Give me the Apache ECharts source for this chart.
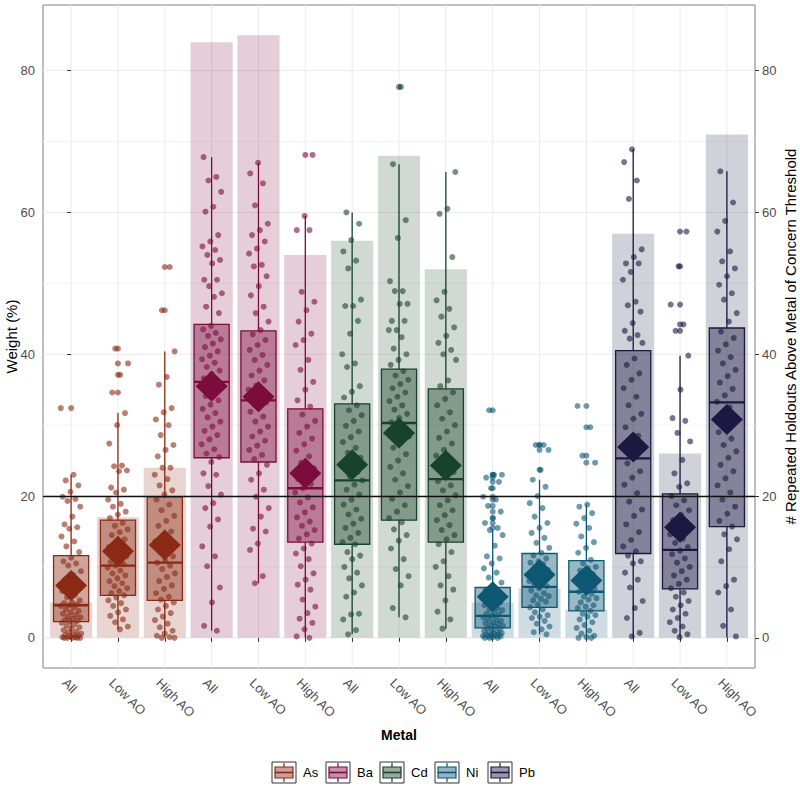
<!DOCTYPE html>
<html><head><meta charset="utf-8">
<script src="https://cdn.jsdelivr.net/npm/echarts@6/dist/echarts.min.js"></script>
<style>html,body{margin:0;padding:0;background:#fff}#c{width:800px;height:791px}</style>
</head><body><div id="c"></div>
<script>
// ---------------- data ----------------
const metals = ['As', 'Ba', 'Cd', 'Ni', 'Pb'];
const tickLabels = ['All','Low AO','High AO','All','Low AO','High AO','All','Low AO','High AO','All','Low AO','High AO','All','Low AO','High AO'];
const yBreaks = [0, 20, 40, 60, 80];
const yMinorBreaks = [10, 30, 50, 70];
const threshold = 20;

// # repeated holdouts above threshold (right axis, bars)
const holdoutCounts = [5, 17, 24, 84, 85, 54, 56, 68, 52, 5, 7, 4, 57, 26, 71];

// boxplot statistics (weight %)
const whiskerLow  = [0, 1.2, 0, 1.0, 7.7, 0, 0.5, 2.9, 1.3, 0, 0.5, 0, 0, 0, 0];
const q1          = [2.3, 6.0, 5.3, 25.4, 24.8, 13.5, 13.2, 16.6, 13.5, 1.4, 4.3, 3.8, 11.9, 6.9, 15.7];
const medians     = [4.6, 10.2, 10.6, 36.1, 33.5, 21.1, 22.2, 30.3, 22.4, 3.1, 7.2, 6.5, 25.3, 12.4, 33.2];
const q3          = [11.6, 16.6, 19.9, 44.2, 43.3, 32.3, 33.0, 37.9, 35.1, 7.1, 11.9, 10.9, 40.5, 20.3, 43.7];
const whiskerHigh = [23.0, 31.7, 40.4, 67.8, 67.0, 59.5, 60.0, 66.8, 65.7, 15.2, 22.3, 18.8, 68.9, 39.8, 65.8];
const means       = [7.4, 12.2, 13.1, 35.5, 34.0, 23.2, 24.4, 28.9, 24.3, 5.8, 8.9, 8.1, 26.9, 15.6, 30.8];

// individual observations (weight %)
const asAll = [32.4,23.0,22.2,21.5,20.6,19.9,19.6,19.3,18.5,17.1,16.0,15.6,15.4,14.3,13.6,12.9,12.1,11.3,10.8,10.5,10.2,9.4,8.9,8.2,7.6,7.0,6.6,6.1,5.7,5.3,5.0,4.9,4.7,4.6,4.5,4.3,4.0,3.8,3.6,3.4,3.2,3.0,2.9,2.7,2.5,2.4,2.3,2.1,1.9,1.7,1.5,1.3,1.1,0.9,0.8,0.6,0.5,0.4,0.3,0.2,0.1,0.1,0.0,0.0,0.0,0.0,0.0];
const asLow = [40.8,38.7,37.1,34.6,31.7,30.0,27.4,24.3,24.2,23.6,23.5,21.2,20.9,20.5,19.5,18.9,18.5,17.8,17.4,16.9,16.2,15.8,15.3,14.9,14.5,13.9,13.4,12.8,12.4,11.9,11.5,11.0,10.7,10.4,10.2,9.9,9.5,9.1,8.8,8.4,8.0,7.7,7.3,7.0,6.6,6.3,6.0,5.7,5.3,4.9,4.5,4.0,3.6,3.1,2.6,2.2,1.6,1.2];
const asHigh = [52.3,46.2,40.4,36.8,35.7,32.4,31.8,30.8,30.0,28.6,27.2,26.5,25.6,24.0,24.0,23.0,22.4,21.5,20.8,20.2,19.5,18.8,18.0,17.2,16.5,15.8,15.0,14.3,13.6,12.8,12.1,11.5,10.9,10.6,10.2,9.7,9.1,8.6,8.0,7.4,6.9,6.3,5.8,5.4,5.0,4.5,4.0,3.5,3.0,2.5,2.0,1.5,1.0,0.6,0.3,0.1,0.0,0.0];
const baAll = [67.8,65.0,64.5,62.9,60.8,60.1,56.8,55.9,55.2,54.7,54.0,53.3,52.8,50.5,50.5,49.6,48.6,48.1,46.7,45.8,44.0,43.5,43.0,42.6,42.1,41.5,41.0,40.4,39.8,39.3,38.8,38.2,37.7,37.2,36.6,36.2,35.8,35.2,34.6,34.1,33.5,32.9,32.3,31.7,31.1,30.5,29.8,29.2,28.6,28.0,27.3,26.6,26.0,25.5,24.8,23.2,23.0,21.4,20.2,19.0,18.3,16.7,15.7,12.9,11.5,10.1,7.1,5.0,1.7,1.0];
const baLow = [67.0,65.5,64.1,61.0,58.4,57.5,56.8,55.9,54.9,54.2,52.6,52.4,51.0,49.6,48.3,46.7,45.8,44.6,43.4,42.8,42.0,41.3,40.6,39.9,39.2,38.5,37.7,37.0,36.3,35.6,35.0,34.3,33.7,33.2,32.6,31.9,31.2,30.5,29.8,29.1,28.4,27.8,27.1,26.5,25.8,25.2,24.4,23.2,22.3,20.9,19.9,18.3,17.1,15.4,15.0,13.3,12.4,8.7,7.7];
const baHigh = [68.1,59.5,57.5,57.5,48.8,47.4,46.2,44.6,42.9,42.0,41.3,39.2,37.8,36.1,35.0,33.5,32.6,31.5,30.6,29.8,28.9,28.1,27.3,26.4,25.6,24.7,23.9,23.1,22.4,21.7,21.1,20.5,19.8,19.1,18.4,17.7,17.0,16.4,15.8,15.2,14.6,14.0,13.3,12.6,11.9,11.1,10.1,9.1,8.2,7.5,6.8,5.4,4.4,3.5,2.7,2.1,1.2,0.2,0.0];
const cdAll = [60.0,58.4,56.1,54.5,53.2,52.1,47.7,46.8,46.8,44.7,42.9,40.0,38.7,38.2,35.5,34.7,33.9,32.8,32.1,31.4,30.6,29.9,29.1,28.3,27.6,26.8,26.1,25.4,24.7,24.0,23.4,22.8,22.2,21.6,20.9,20.2,19.5,18.8,18.1,17.4,16.8,16.1,15.5,14.8,14.1,13.5,13.2,12.1,11.6,11.1,10.0,9.2,8.4,7.4,6.4,5.8,3.4,3.3,2.6,1.1,0.5];
const cdLow = [77.7,66.8,58.9,56.4,50.3,48.9,48.9,47.1,47.1,44.7,44.7,43.4,43.4,42.4,40.8,40.0,39.2,38.5,37.6,37.0,36.4,35.8,35.2,34.6,34.0,33.4,32.8,32.2,31.6,31.0,30.4,29.8,29.1,28.4,27.6,26.8,25.9,25.0,24.1,23.2,22.3,21.4,20.5,19.6,18.7,17.8,16.9,16.3,15.3,14.5,13.7,12.6,11.1,9.7,8.7,7.4,4.2,2.9];
const cdHigh = [65.7,60.5,59.8,53.7,48.8,47.6,46.4,45.3,43.8,42.6,41.6,40.6,40.0,39.2,36.3,35.5,34.6,33.7,32.8,31.8,30.9,30.0,29.1,28.2,27.4,26.5,25.7,24.9,24.1,23.4,22.7,22.1,21.5,20.8,20.1,19.4,18.7,18.0,17.3,16.6,15.9,15.2,14.5,13.9,13.2,12.1,10.8,10.0,8.7,7.4,6.8,5.3,3.7,2.6,1.3];
const niAll = [32.1,23.0,23.0,22.6,22.0,21.1,19.9,19.5,18.6,17.8,16.9,16.2,15.5,15.2,14.5,13.0,11.5,11.2,10.5,9.8,9.2,8.5,7.8,7.2,6.8,6.3,6.0,5.9,5.5,5.2,5.0,4.8,4.6,4.2,4.0,3.9,3.6,3.4,3.3,3.1,2.9,2.7,2.6,2.4,2.2,2.1,2.0,1.8,1.7,1.6,1.4,1.3,1.2,1.0,0.9,0.8,0.7,0.6,0.5,0.5,0.4,0.3,0.3,0.2,0.2,0.1,0.0,0.0,0.0];
const niLow = [27.2,27.2,26.5,23.7,22.3,21.3,20.0,19.0,18.3,17.1,16.2,15.5,14.8,14.1,13.4,12.7,12.0,11.6,11.2,10.8,10.6,10.4,10.0,9.6,9.2,9.0,8.8,8.4,8.0,7.8,7.6,7.3,7.0,6.7,6.3,6.0,5.9,5.5,5.3,5.1,4.7,4.3,4.0,3.6,3.2,3.0,2.8,2.4,2.0,1.6,1.2,0.8,0.5];
const niHigh = [32.7,29.7,25.7,24.7,18.8,18.5,17.6,16.9,16.1,15.5,14.3,13.5,12.7,12.0,11.0,10.5,10.0,9.8,9.5,9.0,8.5,8.0,7.6,7.2,7.0,6.8,6.5,6.2,5.8,5.6,5.4,5.0,4.6,4.4,4.2,3.8,3.4,3.2,3.0,2.6,2.2,1.8,1.4,1.0,0.6,0.3,0.1,0.0,0.0];
const pbAll = [68.9,67.1,64.5,61.9,54.8,53.7,52.8,52.8,51.6,50.5,47.4,46.9,46.0,44.4,43.3,42.7,42.2,41.6,39.4,38.5,37.3,36.4,35.2,34.0,32.8,31.6,30.9,29.7,28.5,27.8,26.6,25.5,24.6,23.5,22.6,21.6,20.4,19.2,18.1,17.2,16.0,14.9,13.8,12.9,12.2,11.6,10.8,10.5,9.2,8.2,7.1,5.2,4.2,2.8,0.7,0.2];
const pbLow = [57.3,52.4,47.0,44.2,43.3,39.8,35.0,31.0,30.6,28.9,27.7,25.1,23.2,21.8,21.3,20.0,19.4,18.7,18.0,17.3,16.6,15.9,15.2,14.6,14.0,13.4,12.8,12.3,11.8,11.2,10.6,10.0,9.4,8.8,8.2,7.6,7.0,6.4,5.8,5.2,4.6,4.0,3.4,2.8,2.2,1.6,1.0,0.5,0.1];
const pbHigh = [65.8,61.4,58.8,57.3,54.5,53.1,52.1,51.0,49.8,48.6,47.7,45.8,44.6,43.2,42.3,41.4,40.5,39.6,38.7,37.8,36.9,36.0,35.1,34.2,33.3,32.5,31.6,30.8,29.9,29.0,28.1,27.2,26.3,25.4,24.4,23.5,22.5,21.5,20.5,19.5,18.5,17.5,16.5,15.7,14.6,13.9,12.5,10.8,8.2,7.3,6.4,4.0,1.7,0.2];

const pointGroups = [asAll, asLow, asHigh, baAll, baLow, baHigh, cdAll, cdLow, cdHigh, niAll, niLow, niHigh, pbAll, pbLow, pbHigh];

// ---------------- styling ----------------
const metalColors = ['#8b2a14', '#7b0c3c', '#17432c', '#0d5773', '#1b1842'];
const FONT = '"Liberation Sans", Arial, sans-serif';
function rgba(hex, a) {
  const n = parseInt(hex.slice(1), 16);
  return `rgba(${(n >> 16) & 255},${(n >> 8) & 255},${n & 255},${a})`;
}
const metalOf = i => Math.floor(i / 3);
// rotated tick labels: small leftward nudge of the text anchor (axis units)
const LABEL_SHIFT = 0.04;

// ---------------- derived series data ----------------
const gridData = [];
yBreaks.forEach(v => gridData.push([0, v, 1]));
yMinorBreaks.forEach(v => gridData.push([0, v, 2]));
tickLabels.forEach((_, i) => gridData.push([i, 0, 3]));

const barData = holdoutCounts.map((c, i) => [i, c, metalOf(i)]);
const boxData = tickLabels.map((_, i) => [i, whiskerLow[i], q1[i], medians[i], q3[i], whiskerHigh[i], metalOf(i)]);

const pointSeries = metals.map((m, mi) => {
  const data = [];
  for (let g = 0; g < 3; g++) {
    const idx = mi * 3 + g;
    pointGroups[idx].forEach((v, k) => {
      const j = (((k * 0.6180339887 + idx * 0.37) % 1) - 0.5) * 0.44;
      data.push([idx + j, v]);
    });
  }
  return {
    type: 'scatter', name: m, data, symbol: 'circle', symbolSize: 6, z: 4,
    itemStyle: { color: metalColors[mi], opacity: 0.6 }, silent: true
  };
});

const outlierData = [];
pointGroups.forEach((arr, idx) => {
  arr.forEach(v => {
    if (v > whiskerHigh[idx] + 1e-9 || v < whiskerLow[idx] - 1e-9) {
      outlierData.push({ value: [idx, v], itemStyle: { color: metalColors[metalOf(idx)] } });
    }
  });
});

const meanData = means.map((m, i) => ({ value: [i, m], itemStyle: { color: metalColors[metalOf(i)] } }));

// ---------------- legend (graphic) ----------------
const legendStart = [272, 326, 380, 435, 488];
const legendGraphics = [];
metals.forEach((m, mi) => {
  const x0 = legendStart[mi], y0 = 762, w = 24, h = 21, cx = x0 + w / 2, c = metalColors[mi];
  legendGraphics.push(
    { type: 'rect', shape: { x: x0, y: y0, width: w, height: h }, style: { fill: '#fff', stroke: '#333', lineWidth: 1 } },
    { type: 'line', shape: { x1: cx, y1: y0 + 1, x2: cx, y2: y0 + 5 }, style: { stroke: c, lineWidth: 1.2 } },
    { type: 'line', shape: { x1: cx, y1: y0 + h - 5, x2: cx, y2: y0 + h - 1 }, style: { stroke: c, lineWidth: 1.2 } },
    { type: 'rect', shape: { x: x0 + 3, y: y0 + 5, width: w - 6, height: h - 10 }, style: { fill: rgba(c, 0.45), stroke: c, lineWidth: 1.2 } },
    { type: 'line', shape: { x1: x0 + 3, y1: y0 + h / 2, x2: x0 + w - 3, y2: y0 + h / 2 }, style: { stroke: c, lineWidth: 1.6 } },
    { type: 'text', x: x0 + w + 7, y: y0 + h / 2, style: { text: m, fill: '#000', font: '13px ' + FONT, textVerticalAlign: 'middle' } }
  );
});

// ---------------- chart ----------------
const chart = echarts.init(document.getElementById('c'), null, { renderer: 'svg' });
chart.setOption({
  animation: false,
  backgroundColor: '#fff',
  textStyle: { fontFamily: FONT },
  grid: { left: 43, right: 45, top: 5, bottom: 123, containLabel: false, outerBoundsMode: 'none',
    show: true, borderColor: '#7f7f7f', borderWidth: 1, backgroundColor: 'transparent' },
  xAxis: {
    type: 'value', min: -0.6, max: 14.6,
    name: 'Metal', nameLocation: 'middle', nameGap: 60, nameMoveOverlap: false,
    nameTextStyle: { fontSize: 14, fontWeight: 'bold', color: '#000', fontFamily: FONT },
    axisLine: { show: false },
    axisTick: { show: true, length: 4, lineStyle: { color: '#333' }, customValues: tickLabels.map((_, i) => i) },
    axisLabel: {
      customValues: tickLabels.map((_, i) => i - LABEL_SHIFT), rotate: -45, margin: 8, verticalAlign: 'top',
      color: '#4d4d4d', fontSize: 13, fontFamily: FONT,
      formatter: v => tickLabels[Math.round(v + LABEL_SHIFT)] || ''
    },
    splitLine: { show: false }
  },
  yAxis: [
    {
      type: 'value', position: 'left', min: -4.25, max: 89.25,
      name: 'Weight (%)', nameLocation: 'middle', nameGap: 24, nameRotate: 90, nameMoveOverlap: false,
      nameTextStyle: { fontSize: 15, color: '#000', fontFamily: FONT },
      axisLine: { show: false },
      axisTick: { show: true, length: 4, lineStyle: { color: '#333' }, customValues: yBreaks },
      axisLabel: { customValues: yBreaks, color: '#4d4d4d', fontSize: 13, margin: 8, fontFamily: FONT },
      splitLine: { show: false }
    },
    {
      type: 'value', position: 'right', min: -4.25, max: 89.25,
      name: '# Repeated Holdouts Above Metal of Concern Threshold', nameLocation: 'middle', nameGap: 28, nameRotate: 90, nameMoveOverlap: false,
      nameTextStyle: { fontSize: 15, color: '#000', fontFamily: FONT },
      axisLine: { show: false },
      axisTick: { show: true, length: 4, lineStyle: { color: '#333' }, customValues: yBreaks },
      axisLabel: { customValues: yBreaks, color: '#4d4d4d', fontSize: 13, margin: 7, fontFamily: FONT },
      splitLine: { show: false }
    }
  ],
  graphic: legendGraphics,
  series: [
    {
      type: 'custom', name: 'grid', silent: true, z: 0, data: gridData, encode: { x: 0, y: 1 },
      renderItem(params, api) {
        const cs = params.coordSys, kind = api.value(2);
        if (kind === 3) {
          const x = api.coord([api.value(0), 0])[0];
          return { type: 'line', shape: { x1: x, y1: cs.y, x2: x, y2: cs.y + cs.height }, style: { stroke: '#ebebeb', lineWidth: 1 } };
        }
        const y = api.coord([0, api.value(1)])[1];
        return { type: 'line', shape: { x1: cs.x, y1: y, x2: cs.x + cs.width, y2: y },
          style: { stroke: kind === 1 ? '#ebebeb' : '#f4f4f4', lineWidth: 1 } };
      }
    },
    {
      type: 'custom', name: 'holdouts', yAxisIndex: 1, silent: true, z: 1, data: barData, encode: { x: 0, y: 1 },
      renderItem(params, api) {
        const p = api.coord([api.value(0), api.value(1)]);
        const p0 = api.coord([api.value(0), 0]);
        const w = api.size([0.9, 0])[0];
        return { type: 'rect', shape: { x: p[0] - w / 2, y: p[1], width: w, height: p0[1] - p[1] },
          style: { fill: rgba(metalColors[api.value(2)], 0.2) } };
      }
    },
    {
      type: 'custom', name: 'boxes', silent: true, z: 2, data: boxData, encode: { x: 0, y: [1, 2, 3, 4, 5] },
      renderItem(params, api) {
        const x = api.value(0), c = metalColors[api.value(6)];
        const yl = api.coord([x, api.value(1)])[1];
        const y1 = api.coord([x, api.value(2)])[1];
        const ym = api.coord([x, api.value(3)])[1];
        const y3 = api.coord([x, api.value(4)])[1];
        const yh = api.coord([x, api.value(5)])[1];
        const cx = api.coord([x, 0])[0];
        const hw = api.size([0.75, 0])[0] / 2;
        return { type: 'group', children: [
          { type: 'line', shape: { x1: cx, y1: y3, x2: cx, y2: yh }, style: { stroke: c, lineWidth: 1.3 } },
          { type: 'line', shape: { x1: cx, y1: y1, x2: cx, y2: yl }, style: { stroke: c, lineWidth: 1.3 } },
          { type: 'rect', shape: { x: cx - hw, y: y3, width: 2 * hw, height: y1 - y3 }, style: { fill: rgba(c, 0.42), stroke: c, lineWidth: 1.3 } },
          { type: 'line', shape: { x1: cx - hw, y1: ym, x2: cx + hw, y2: ym }, style: { stroke: c, lineWidth: 2.3 } }
        ] };
      }
    },
    ...pointSeries,
    {
      type: 'scatter', name: 'outliers', data: outlierData, symbolSize: 6, z: 4, silent: true,
      itemStyle: { opacity: 0.6 }
    },
    {
      type: 'scatter', name: 'mean', data: meanData, symbol: 'diamond', symbolSize: [32, 31], z: 6, silent: true,
      itemStyle: { opacity: 1 },
      markLine: {
        silent: true, symbol: ['none', 'none'], label: { show: false }, z: 5,
        lineStyle: { color: '#111', width: 1.3, type: 'solid' },
        data: [{ yAxis: threshold }]
      }
    }
  ]
});
</script></body></html>
